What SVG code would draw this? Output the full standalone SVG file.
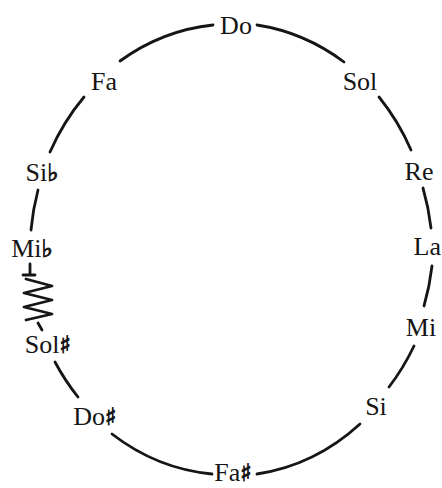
<svg xmlns="http://www.w3.org/2000/svg" width="442" height="488" viewBox="0 0 442 488">
<style>
text{font-family:"Liberation Serif","DejaVu Serif",serif;font-size:26px;fill:#151515;text-anchor:middle}
.acc{font-family:"DejaVu Sans",sans-serif;font-size:24px;stroke:#151515;stroke-width:0.9}
.c{fill:none;stroke:#151515;stroke-width:2.8;stroke-linecap:round;stroke-linejoin:round}
</style>
<rect width="442" height="488" fill="#fff"/>
<g id="connectors">
<path class="c" d="M257,25 A205,226 0 0 1 344,62"/>
<path class="c" d="M379,97 A205,226 0 0 1 411,150"/>
<path class="c" d="M423,188 A205,226 0 0 1 431,228"/>
<path class="c" d="M432,266 A205,226 0 0 1 424,306"/>
<path class="c" d="M414,346 A205,226 0 0 1 389,387"/>
<path class="c" d="M360,424 A205,226 0 0 1 257,474"/>
<path class="c" d="M212,474 A205,226 0 0 1 112,434"/>
<path class="c" d="M78,397 A205,226 0 0 1 55,362"/>
<path class="c" d="M31,230 A205,226 0 0 1 38,190"/>
<path class="c" d="M50,152 A205,226 0 0 1 84,97"/>
<path class="c" d="M120,61 A205,226 0 0 1 213,25"/>
<path class="c" d="M30,264 V275 M23,275 H35 M26,279 L52,286 L24,293 L52,300 L24,307 L52,314 L26,320 M38,323 L42,330"/>
</g>
<g id="n-do"><text x="236" y="34">Do</text></g>
<g id="n-sol"><text x="360" y="90">Sol</text></g>
<g id="n-re"><text x="419" y="180">Re</text></g>
<g id="n-la"><text x="441" y="255" style="text-anchor:end">La</text></g>
<g id="n-mi"><text x="421" y="336">Mi</text></g>
<g id="n-si"><text x="376" y="415">Si</text></g>
<g id="n-fasharp"><text x="233" y="481">Fa<tspan class="acc">♯</tspan></text></g>
<g id="n-dosharp"><text x="95" y="425">Do<tspan class="acc">♯</tspan></text></g>
<g id="n-solsharp"><text x="48" y="353">Sol<tspan class="acc">♯</tspan></text></g>
<g id="n-miflat"><text x="32" y="257">Mi<tspan class="acc">♭</tspan></text></g>
<g id="n-siflat"><text x="42" y="181">Si<tspan class="acc">♭</tspan></text></g>
<g id="n-fa"><text x="104" y="90">Fa</text></g>
</svg>
